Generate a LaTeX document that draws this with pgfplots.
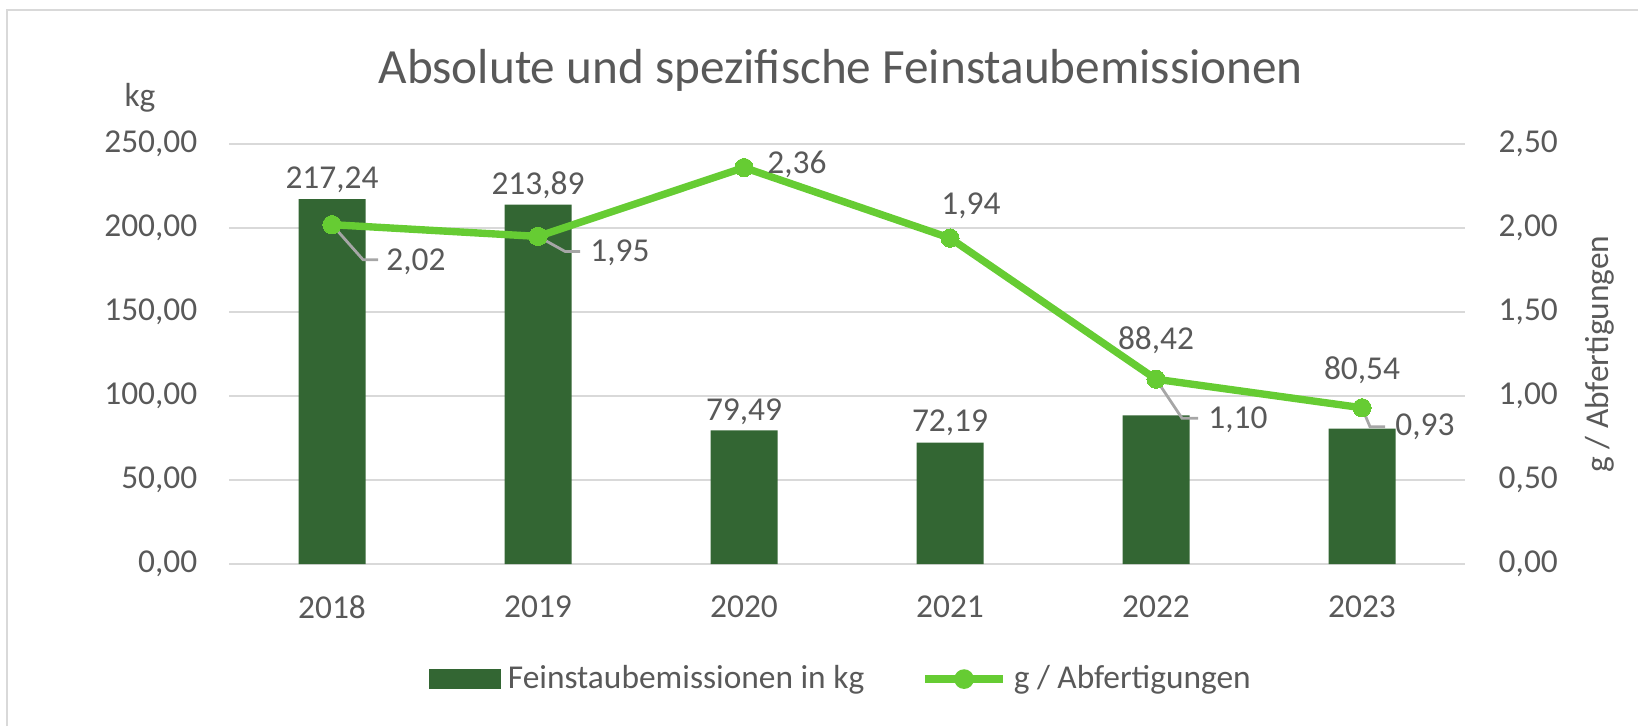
\documentclass[border=0pt]{standalone}
\usepackage{fontspec}
\setmainfont{Carlito}
\usepackage{pgfplots}
\usepackage{pgfplotstable}
\pgfplotsset{compat=1.18}

\definecolor{bargreen}{HTML}{336633}
\definecolor{linegreen}{HTML}{66CC33}
\definecolor{txt}{HTML}{595959}
\definecolor{gridgray}{HTML}{D9D9D9}
\definecolor{leadgray}{HTML}{A6A6A6}

% Feinstaubemissionen in kg, dy = label offset above bar top (cm)
\pgfplotstableread{
x y dy
0 217.24 0.19
1 213.89 0.19
2 79.49 0.19
3 72.19 0.20
4 88.42 0.755
5 80.54 0.58
}\emis

% g / Abfertigungen, dx/dy = label offset (cm)
\pgfplotstableread{
x y dx dy
0 2.02 0.84 -0.375
1 1.95 0.82 -0.16
2 2.36 0.53 0.035
3 1.94 0.21 0.32
4 1.10 0.82 -0.41
5 0.93 0.63 -0.19
}\spez

\newcommand{\lblfont}{\fontsize{9.5}{11}\selectfont}

\pgfplotsset{
  common/.style={
    scale only axis, width=12.36cm, height=4.20cm,
    at={(2.29cm,1.62cm)}, anchor=south west,
    xmin=-0.5, xmax=5.5,
    axis line style={draw=none}, tick style={draw=none},
    tick label style={font=\lblfont, text=txt},
    /pgf/number format/.cd, fixed, fixed zerofill, precision=2,
      use comma, 1000 sep={}, assume math mode=true,
  },
}

\begin{document}
\begin{tikzpicture}
\path[use as bounding box] (0,0) rectangle (16.38,7.26);
\draw[gridgray, line width=0.8pt] (0.07,0) -- (0.07,7.16) -- (16.38,7.16);

\begin{axis}[
    common,
    ymin=0, ymax=250, ytick={0,50,...,250},
    xtick={0,...,5}, xticklabels={2018,2019,2020,2021,2022,2023},
    ymajorgrids, grid style={gridgray, line width=0.8pt},
    yticklabel style={anchor=east, inner sep=0pt, xshift=-0.31cm},
    xticklabel style={anchor=north, inner sep=0pt, yshift=-0.31cm},
    ylabel={kg},
    every axis y label/.style={at={(axis description cs:0,1)}, anchor=center,
      xshift=-0.89cm, yshift=0.46cm, font=\lblfont, text=txt},
    title={Absolute und spezifische Feinstaubemissionen},
    title style={at={(axis description cs:0.495,1)}, anchor=base,
      yshift=0.39cm, font=\fontsize{14}{17}\selectfont, text=txt},
    legend style={at={(0.497,-0.274)}, anchor=center, draw=none, fill=none,
      legend columns=2, font=\lblfont, text=txt,
      /tikz/every even column/.append style={column sep=0.5cm}},
    clip=false,
]
\addplot[ybar, bar width=0.67cm, fill=bargreen, draw=none,
    nodes near coords,
    visualization depends on={\thisrow{dy} \as \dy},
    nodes near coords style={anchor=center, yshift=\dy cm, font=\lblfont, text=txt},
    legend image code/.code={\fill[bargreen] (0cm,-0.1cm) rectangle (0.72cm,0.1cm);}]
  table[x=x, y=y] {\emis};
\addlegendentry{Feinstaubemissionen in kg}
\addlegendimage{legend image code/.code={
    \draw[linegreen, line width=2.1pt] (0cm,0cm) -- (0.78cm,0cm);
    \fill[linegreen] (0.39cm,0cm) circle (2.6pt);}}
\addlegendentry{g / Abfertigungen}
\end{axis}

\begin{axis}[
    common,
    axis y line*=right, hide x axis,
    ymin=0, ymax=2.5, ytick={0,0.5,...,2.5},
    yticklabel style={anchor=west, inner sep=0pt, xshift=0.33cm},
    ylabel={g / Abfertigungen},
    every axis y label/.style={at={(axis description cs:1,0.5)},
      xshift=1.35cm, rotate=90, anchor=center, font=\lblfont, text=txt},
    clip=false,
]
\addplot[linegreen, line width=2.1pt, mark=*, mark size=2.6pt,
    mark options={fill=linegreen, draw=linegreen, line width=0pt},
    nodes near coords,
    visualization depends on={\thisrow{dx} \as \dx},
    visualization depends on={\thisrow{dy} \as \dy},
    nodes near coords style={anchor=center, xshift=\dx cm, yshift=\dy cm,
      font=\lblfont, text=txt}]
  table[x=x, y=y] {\spez};
\draw[leadgray, line width=0.8pt] (axis cs:0,2.02) -- ++(0.31cm,-0.35cm) -- ++(0.15cm,0cm);
\draw[leadgray, line width=0.8pt] (axis cs:1,1.95) -- ++(0.27cm,-0.15cm) -- ++(0.15cm,0cm);
\draw[leadgray, line width=0.8pt] (axis cs:4,1.10) -- ++(0.26cm,-0.39cm) -- ++(0.16cm,0cm);
\draw[leadgray, line width=0.8pt] (axis cs:5,0.93) -- ++(0.08cm,-0.19cm) -- ++(0.15cm,0cm);
\end{axis}
\end{tikzpicture}
\end{document}
